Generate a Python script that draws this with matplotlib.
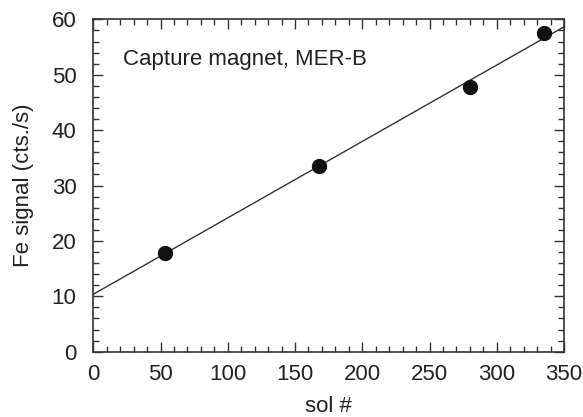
import numpy as np
import matplotlib
matplotlib.use("Agg")
import matplotlib.pyplot as plt
from matplotlib.ticker import MultipleLocator

plt.rcParams['font.family'] = ['Liberation Sans', 'DejaVu Sans']

sol = [53, 168, 280, 335]
fe_signal = [17.9, 33.6, 47.7, 57.6]
xlim = (0, 350)
ylim = (0, 60)
annotation = "Capture magnet, MER-B"

fig = plt.figure(figsize=(5.83, 4.17), dpi=100)
ax = fig.add_axes([0.160, 0.1566, 0.8074, 0.797])

slope, intercept = np.polyfit(sol, fe_signal, 1)
xs = np.array(xlim)
ax.plot(xs, slope * xs + intercept, color='#333333', lw=1.0, zorder=2)
ax.plot(sol, fe_signal, 'o', color='#111111', ms=10, zorder=3)

ax.set_xlim(*xlim)
ax.set_ylim(*ylim)
ax.xaxis.set_major_locator(MultipleLocator(50))
ax.xaxis.set_minor_locator(MultipleLocator(10))
ax.yaxis.set_major_locator(MultipleLocator(10))
ax.yaxis.set_minor_locator(MultipleLocator(2))
ax.tick_params(which='both', direction='in', top=True, right=True,
               color='#333333', labelcolor='#222222', labelsize=16)
ax.tick_params(axis='x', which='major', pad=9)
ax.tick_params(axis='y', which='major', pad=12)
ax.tick_params(which='major', length=7, width=1)
ax.tick_params(which='minor', length=4, width=1)
for s in ax.spines.values():
    s.set_color('#333333')
    s.set_linewidth(1.2)

ax.set_xlabel('sol #', fontsize=16, color='#222222', labelpad=8)
ax.set_ylabel('Fe signal (cts./s)', fontsize=16, color='#222222', labelpad=13)
ax.text(21.8, 51.7, annotation, fontsize=16, color='#222222')

fig.savefig('out.png', dpi=100)
